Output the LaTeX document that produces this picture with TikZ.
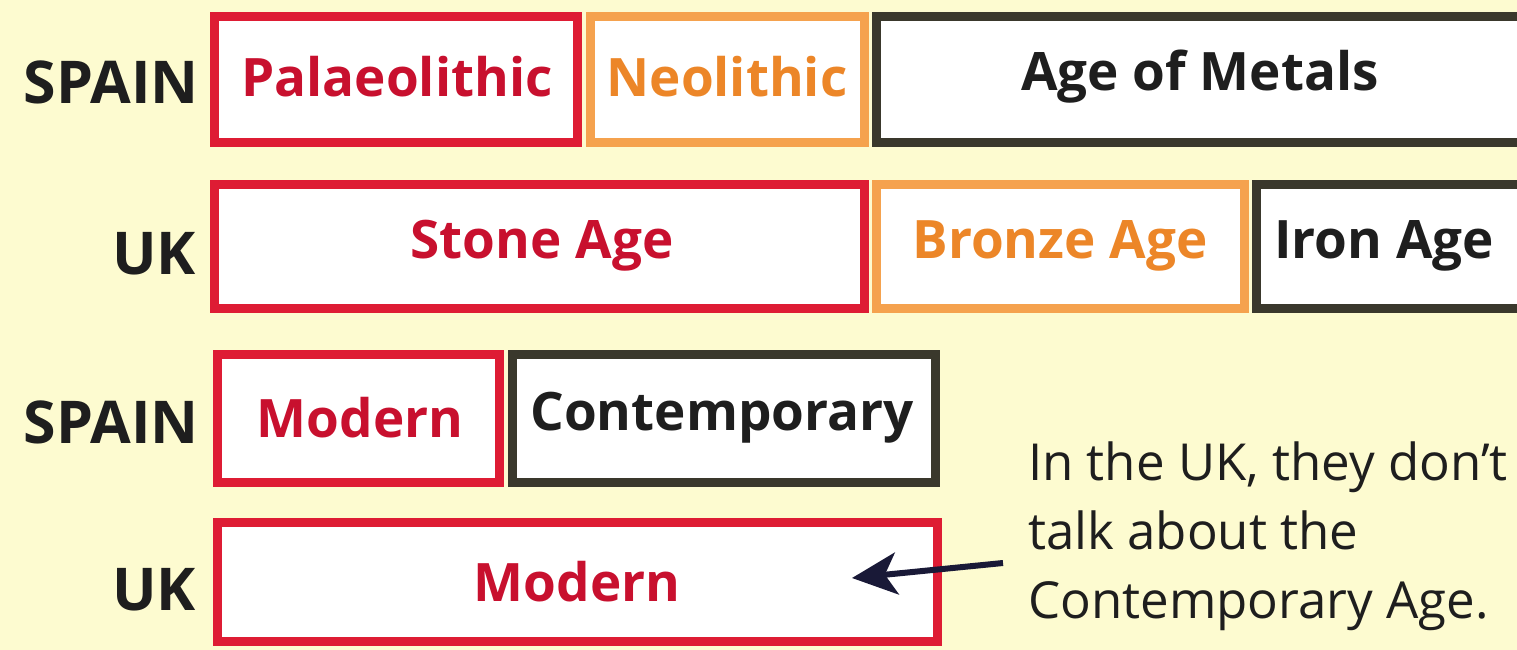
\documentclass[tikz,border=0pt]{standalone}
\usepackage{fontspec}
\setmainfont{Open Sans}
\usetikzlibrary{arrows.meta}
\definecolor{bgy}{RGB}{253,251,208}
\definecolor{redb}{RGB}{222,28,52}
\definecolor{redt}{RGB}{200,16,46}
\definecolor{orb}{RGB}{245,162,78}
\definecolor{ort}{RGB}{236,134,40}
\definecolor{dkb}{RGB}{58,56,44}
\definecolor{dkt}{RGB}{30,30,30}
\definecolor{navy}{RGB}{25,25,55}
\tikzset{
  frame/.style={fill=white, line width=9pt},
  redbox/.style={frame, draw=redb},
  orbox/.style={frame, draw=orb},
  dkbox/.style={frame, draw=dkb},
  boxtxt/.style={font=\fontsize{53}{58}\selectfont\bfseries, inner sep=0pt, anchor=center},
  country/.style={font=\fontsize{59}{62}\selectfont\bfseries, text=dkt, inner sep=0pt, anchor=east},
}
\begin{document}
\begin{tikzpicture}[x=1pt,y=-1pt]
\fill[bgy] (0,0) rectangle (1517,650);
\useasboundingbox (0,0) rectangle (1517,650);
\begin{scope}
\clip (0,0) rectangle (1517,650);
% row 1
\draw[redbox] (214.5,16.5) rectangle (577.5,142.5);
\draw[orbox] (590.5,16.5) rectangle (864.5,142.5);
\draw[dkbox] (876.5,16.5) rectangle (1530,142.5);
% row 2
\draw[redbox] (214.5,184.5) rectangle (864.5,308.5);
\draw[orbox] (876.5,184.5) rectangle (1244.5,308.5);
\draw[dkbox] (1256.5,184.5) rectangle (1530,308.5);
% row 3
\draw[redbox] (217.5,354.5) rectangle (499.5,482.5);
\draw[dkbox] (512.5,354.5) rectangle (935.5,482.5);
% row 4
\draw[redbox] (217.5,522.5) rectangle (937.5,641.5);
\end{scope}
\node[boxtxt, text=redt] (pal) at (397,77) {Palaeolithic};
\node[boxtxt, text=ort] (neo) at (727,77) {Neolithic};
\node[boxtxt, text=dkt] (aom) at (1200,77) {Age of Metals};
\node[boxtxt, text=redt] (sto) at (542,246) {Stone Age};
\node[boxtxt, text=ort] (bro) at (1060,246) {Bronze Age};
\node[boxtxt, text=dkt] (iro) at (1384,246) {Iron Age};
\node[boxtxt, text=redt] (mod) at (360,418) {Modern};
\node[boxtxt, text=dkt] (con) at (722,418) {Contemporary};
\node[boxtxt, text=redt] (mod2) at (577,582) {Modern};
\node[country] (s1) at (199,82) {SPAIN};
\node[country] (u1) at (196,254) {UK};
\node[country] (s2) at (199,422) {SPAIN};
\node[country] (u2) at (196,590) {UK};
\node[font=\fontsize{51}{69}\selectfont, text=dkt, align=left, anchor=north west, inner sep=0pt] (note) at (1028,442) {In the UK, they don't\\talk about the\\Contemporary Age.};
\coordinate (tail) at (1003,563);
\coordinate (tip) at (852,578);
\draw[navy, line width=6pt, -{Stealth[length=45pt,width=42pt,inset=12pt]}] (tail) -- (tip);
\end{tikzpicture}
\end{document}
